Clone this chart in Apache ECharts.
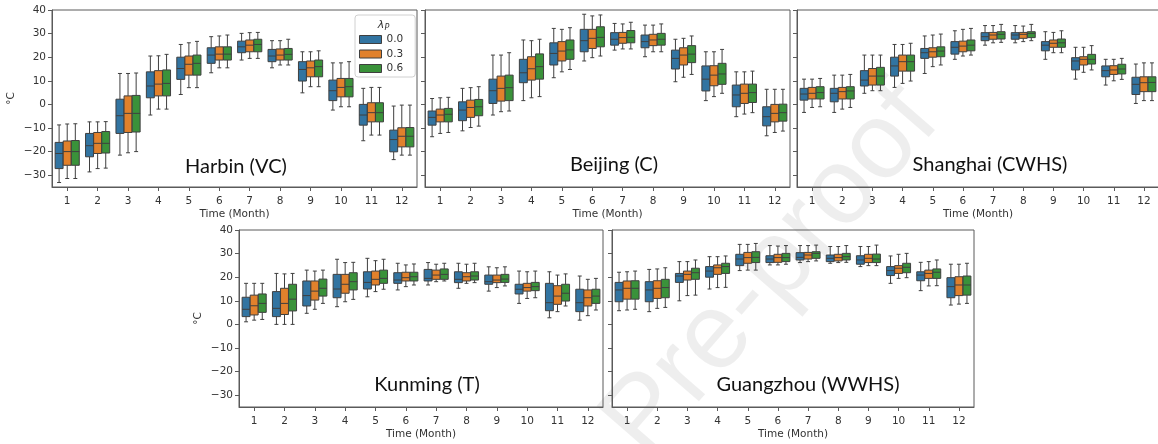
<!DOCTYPE html>
<html>
<head>
<meta charset="utf-8">
<script src="https://cdn.jsdelivr.net/npm/echarts@6/dist/echarts.min.js"></script>
<style>html,body{margin:0;padding:0;background:#fff}#c{width:1158px;height:444px}</style>
</head>
<body>
<div id="c"></div>
<script>
// ---- categories / tick labels ----
const months = ['1','2','3','4','5','6','7','8','9','10','11','12'];
const lambdaLabels = ['0.0','0.3','0.6'];
const yTicks = [-30,-20,-10,0,10,20,30,40];
const cityNames = ['Harbin (VC)','Beijing (C)','Shanghai (CWHS)','Kunming (T)','Guangzhou (WWHS)'];

// ---- box values per month: [whiskerLow, Q1, median, Q3, whiskerHigh] ----
const harbin00 = [[-33.1,-27.2,-20.8,-16.1,-8.7],[-28.6,-22.2,-17.5,-12.3,-7.4],[-21.5,-12.3,-4.8,2.2,13.1],[-4.5,2.8,7.8,13.8,20.5],[4.2,10.6,15.2,20.0,25.4],[13.4,17.4,20.9,24.0,28.7],[18.8,21.9,24.4,26.8,30.1],[15.5,18.1,20.5,23.3,27.0],[4.9,9.9,14.8,18.1,22.3],[-2.4,1.6,5.8,10.3,17.6],[-15.4,-8.8,-4.5,0.0,6.8],[-23.4,-20.1,-14.9,-10.9,-0.7]];
const harbin03 = [[-31.4,-25.8,-20.0,-15.5,-8.3],[-27.2,-20.8,-16.5,-11.9,-7.4],[-20.5,-11.9,-3.8,3.6,13.1],[-2.0,3.6,8.6,14.3,20.6],[7.1,12.4,17.0,20.5,26.1],[15.5,18.8,21.3,24.4,29.0],[19.5,22.3,25.1,27.3,30.4],[16.7,18.8,20.9,23.5,27.0],[7.5,11.7,15.5,18.4,22.3],[-1.0,3.2,7.2,11.0,17.6],[-13.0,-7.4,-3.5,0.7,7.2],[-21.5,-18.0,-13.5,-9.9,-0.3]];
const harbin06 = [[-31.4,-25.8,-20.0,-15.3,-8.2],[-27.0,-20.6,-16.5,-11.5,-7.3],[-20.0,-11.7,-3.8,3.8,13.3],[-2.0,3.6,8.9,14.6,21.2],[7.1,12.4,17.4,20.9,26.7],[15.5,18.8,21.3,24.4,29.4],[19.5,22.3,25.4,27.6,30.5],[16.7,18.8,21.2,23.7,27.6],[7.5,11.7,16.0,18.8,22.7],[-1.0,3.2,7.5,11.0,18.1],[-13.0,-7.4,-3.5,0.7,7.2],[-21.5,-18.0,-13.5,-9.8,-0.3]];

const beijing00 = [[-13.7,-8.8,-5.5,-2.8,2.5],[-11.2,-6.9,-2.4,1.1,6.8],[-4.5,0.4,5.8,10.7,20.9],[1.6,9.2,13.4,19.1,27.3],[11.3,16.7,21.6,26.1,32.2],[18.4,22.3,27.0,31.8,38.2],[23.0,25.1,27.6,30.4,34.3],[20.2,24.0,26.6,29.4,33.6],[9.6,15.0,19.5,23.0,27.6],[1.6,5.7,10.7,16.3,22.3],[-5.2,-1.0,4.0,8.2,13.8],[-13.3,-9.1,-5.2,-1.0,6.4]];
const beijing03 = [[-12.3,-7.4,-4.5,-2.0,2.8],[-9.8,-5.5,-1.3,1.8,7.1],[-3.1,1.4,6.8,12.0,20.9],[2.8,10.3,15.1,20.2,27.0],[13.8,18.4,22.6,26.6,31.8],[19.8,23.7,28.0,31.8,37.5],[23.5,25.9,28.3,30.5,34.1],[22.3,24.9,27.3,29.7,33.6],[11.5,16.7,20.9,24.0,28.0],[3.3,7.9,12.4,16.4,22.3],[-4.1,0.4,4.7,8.6,13.8],[-11.9,-7.4,-3.8,0.0,6.4]];
const beijing06 = [[-11.9,-7.4,-4.2,-1.7,3.0],[-9.2,-4.8,-1.0,2.1,7.5],[-2.8,1.6,7.1,12.4,21.9],[3.3,10.7,16.0,21.4,27.6],[14.8,19.1,23.1,27.3,32.5],[20.5,24.4,28.4,32.9,37.9],[23.5,26.1,28.4,31.3,34.8],[22.3,25.1,27.6,30.1,34.1],[12.7,17.7,21.3,24.9,29.0],[4.7,8.5,12.9,17.4,23.3],[-3.5,0.8,5.0,8.6,14.1],[-11.3,-7.1,-3.5,0.1,6.4]];

const shanghai00 = [[-3.4,1.8,4.4,6.8,10.7],[-3.4,1.1,4.7,6.8,12.4],[4.7,7.8,10.3,14.3,20.9],[7.2,12.0,16.3,20.0,25.4],[13.1,19.5,21.9,23.7,29.0],[19.1,21.3,24.2,26.6,31.2],[25.1,27.0,28.7,30.4,33.4],[26.1,27.6,29.4,30.4,33.4],[19.1,22.7,25.1,26.6,30.8],[10.7,14.6,18.4,19.8,24.2],[8.2,11.7,14.3,16.3,19.1],[0.4,4.2,8.5,11.5,17.1]];
const shanghai03 = [[-1.3,2.3,4.7,7.2,10.7],[-2.0,2.3,5.4,7.2,12.4],[5.8,8.2,12.0,15.2,20.9],[8.9,14.1,18.1,20.9,25.4],[16.0,20.0,22.3,24.0,29.4],[20.5,22.3,24.7,26.8,31.8],[26.1,27.6,29.4,30.5,33.4],[26.6,28.0,29.7,30.5,33.2],[21.9,24.2,25.9,27.3,30.5],[13.6,16.7,19.1,20.2,24.2],[10.0,12.7,14.6,16.4,19.1],[1.6,5.4,9.2,11.7,17.6]];
const shanghai06 = [[-1.0,2.3,5.0,7.5,11.0],[-1.3,2.3,5.7,7.5,12.7],[5.8,8.2,12.0,15.7,20.9],[9.9,14.1,18.1,20.9,25.9],[16.7,20.2,22.6,24.4,29.8],[20.9,22.7,25.1,27.3,32.2],[26.3,27.7,29.7,30.8,33.9],[27.0,28.3,30.1,30.8,33.9],[21.9,24.2,26.1,27.7,31.2],[14.6,17.1,19.1,21.2,24.9],[10.6,12.9,15.0,17.0,19.5],[1.6,5.4,9.3,11.7,17.6]];

const kunming00 = [[1.1,3.3,6.4,11.5,17.4],[0.0,3.3,6.8,13.9,21.6],[4.7,7.8,12.2,18.4,23.0],[7.5,11.3,15.0,21.2,27.6],[11.7,15.0,17.8,22.3,28.0],[14.6,17.4,18.8,21.9,25.9],[16.7,18.4,19.5,23.3,26.2],[15.3,17.7,19.1,22.3,25.9],[14.1,17.0,18.1,20.9,24.4],[8.9,12.9,14.9,17.0,22.6],[2.8,5.8,9.2,17.4,22.3],[1.8,5.4,9.2,14.9,20.5]];
const kunming03 = [[1.8,4.0,7.9,12.4,17.4],[0.0,4.2,8.9,15.3,21.4],[6.4,10.3,14.1,18.4,22.6],[9.6,13.2,17.0,21.2,26.2],[13.9,16.7,19.1,22.6,27.0],[16.0,18.4,19.8,22.1,25.2],[18.1,19.1,20.9,23.0,25.5],[17.4,18.4,20.2,21.9,25.5],[15.6,17.7,18.8,20.9,24.0],[11.0,14.1,15.6,17.4,22.3],[5.4,8.5,12.0,16.4,20.9],[3.7,7.8,11.3,14.6,19.1]];
const kunming06 = [[2.1,5.1,8.9,12.9,17.4],[0.0,5.7,10.7,17.0,21.6],[8.9,12.0,15.3,19.2,23.0],[10.6,14.6,18.1,21.9,26.3],[14.9,17.4,19.5,23.0,27.6],[16.7,18.4,20.2,22.1,25.6],[18.4,19.1,21.2,23.5,25.9],[17.7,18.8,20.5,22.3,25.9],[16.3,17.8,19.2,21.2,24.4],[11.3,14.3,16.0,17.8,22.6],[7.8,9.9,13.2,17.0,21.4],[6.1,8.9,12.0,14.9,19.5]];

const guangzhou00 = [[5.8,9.6,14.6,17.8,22.1],[5.4,9.6,14.6,18.1,23.3],[10.0,17.8,20.5,21.6,26.6],[15.0,20.0,22.6,24.5,28.7],[22.8,24.9,27.7,29.7,33.9],[25.2,26.2,27.7,29.1,33.4],[26.2,27.3,28.4,30.4,33.4],[25.9,26.6,28.0,29.4,33.0],[24.5,25.5,27.3,29.1,33.0],[17.4,20.7,22.8,24.5,29.0],[14.3,18.5,20.9,22.3,26.3],[8.2,11.3,16.0,19.8,25.5]];
const guangzhou03 = [[6.1,10.7,15.3,18.4,22.3],[6.8,11.0,15.3,18.5,23.5],[12.2,18.8,21.2,22.6,26.6],[15.6,21.2,24.0,25.2,28.7],[23.0,25.9,28.3,30.5,33.9],[25.2,26.3,28.3,29.7,33.2],[26.6,27.7,29.4,30.5,33.4],[26.2,26.9,28.3,29.7,33.0],[24.9,26.2,28.0,29.7,33.0],[19.5,21.6,23.8,24.9,29.7],[16.3,19.5,21.6,23.0,26.6],[8.6,12.2,16.7,20.2,25.5]];
const guangzhou06 = [[6.4,10.7,15.3,18.5,22.6],[7.2,11.3,15.6,19.1,24.0],[12.4,19.1,21.9,23.8,27.3],[15.7,21.6,24.5,25.9,29.0],[23.0,26.2,28.4,30.8,34.3],[25.5,26.6,28.3,30.1,33.4],[26.9,28.0,30.1,30.8,33.6],[26.3,27.3,28.7,30.1,33.4],[24.9,26.2,27.7,29.8,33.6],[19.8,21.9,24.2,25.9,30.1],[16.4,19.5,22.1,23.5,27.3],[8.9,12.4,16.7,20.5,25.9]];

// ---- styling / layout ----
const colors = ['#3274a1','#e1812c','#3a923a'];
const edge = '#3f3f3f';
const axisColor = '#5a5a5a';
const textColor = '#333';
const tickFont = 'DejaVu Sans';

const panels = [
  {data:[harbin00,harbin03,harbin06],       left:52,  top:10,  width:365, lx:236, ly:167, yLab:true},
  {data:[beijing00,beijing03,beijing06],    left:425, top:10,  width:365, lx:614, ly:165, yLab:false},
  {data:[shanghai00,shanghai03,shanghai06], left:797, top:10,  width:362, lx:990, ly:165, yLab:false},
  {data:[kunming00,kunming03,kunming06],    left:239, top:230, width:364, lx:427, ly:385, yLab:true},
  {data:[guangzhou00,guangzhou03,guangzhou06], left:612, top:230, width:362, lx:808, ly:385, yLab:false}
];
const plotH = 177;

function makeRender(k) {
  return function (params, api) {
    const j = api.value(0);
    const band = api.size([1, 0])[0];
    const slot = band * 0.8 / 3;
    const w = slot * 0.98;
    const cx = api.coord([j, api.value(3)])[0] + (k - 1) * slot;
    const y = [1, 2, 3, 4, 5].map(function (d) { return api.coord([j, api.value(d)])[1]; });
    const half = w / 2, cap = w / 4;
    const ls = {stroke: edge, lineWidth: 1};
    return {type: 'group', children: [
      {type: 'line', shape: {x1: cx, y1: y[0], x2: cx, y2: y[1]}, style: ls},
      {type: 'line', shape: {x1: cx, y1: y[3], x2: cx, y2: y[4]}, style: ls},
      {type: 'line', shape: {x1: cx - cap, y1: y[0], x2: cx + cap, y2: y[0]}, style: ls},
      {type: 'line', shape: {x1: cx - cap, y1: y[4], x2: cx + cap, y2: y[4]}, style: ls},
      {type: 'rect', shape: {x: cx - half, y: y[3], width: w, height: y[1] - y[3]},
        style: {fill: api.visual('color'), stroke: edge, lineWidth: 1}},
      {type: 'line', shape: {x1: cx - half, y1: y[2], x2: cx + half, y2: y[2]}, style: ls}
    ]};
  };
}

const grids = [], xAxes = [], yAxes = [], series = [], graphics = [];
panels.forEach(function (p, i) {
  grids.push({left: p.left, top: p.top, width: p.width, height: plotH, containLabel: false,
    outerBoundsMode: 'none', show: true, borderColor: axisColor, borderWidth: 1, backgroundColor: 'transparent'});
  xAxes.push({type: 'category', gridIndex: i, data: months, boundaryGap: true, position: 'bottom',
    axisLine: {show: true, onZero: false, lineStyle: {color: axisColor, width: 1}},
    axisTick: {show: true, alignWithLabel: true, interval: 0, length: 4, lineStyle: {color: axisColor}},
    axisLabel: {interval: 0, margin: 9, fontSize: 10.5, color: textColor, fontFamily: tickFont},
    splitLine: {show: false},
    name: 'Time (Month)', nameLocation: 'middle', nameGap: 22,
    nameTextStyle: {fontSize: 10.5, color: textColor, fontFamily: tickFont}});
  yAxes.push({type: 'value', gridIndex: i, min: -35, max: 40, position: 'left',
    axisLine: {show: true, onZero: false, lineStyle: {color: axisColor, width: 1}},
    axisTick: {show: true, length: 4, customValues: yTicks, lineStyle: {color: axisColor}},
    axisLabel: {show: p.yLab, customValues: yTicks, margin: 6, fontSize: 10.5, color: textColor, fontFamily: tickFont,
      formatter: function (v) { return String(v).replace('-', '\u2212'); }},
    splitLine: {show: false},
    name: p.yLab ? '°C' : '', nameLocation: 'middle', nameGap: 35, nameRotate: 90,
    nameTextStyle: {fontSize: 10.5, color: textColor, fontFamily: tickFont}});
  p.data.forEach(function (arr, k) {
    series.push({type: 'custom', name: lambdaLabels[k], xAxisIndex: i, yAxisIndex: i,
      data: arr.map(function (d, j) { return [j].concat(d); }),
      encode: {x: 0, y: [1, 2, 3, 4, 5]},
      itemStyle: {color: colors[k]},
      renderItem: makeRender(k), z: 3, clip: false});
  });
  graphics.push({type: 'text', x: p.lx, y: p.ly, z: 10,
    style: {text: cityNames[i], fill: '#111', font: '20px Lato', align: 'center', verticalAlign: 'middle'}});
});

// legend title lambda_P
graphics.push({type: 'text', x: 381, y: 25, z: 100, style: {text: 'λ', fill: textColor, font: 'italic 11px DejaVu Sans', align: 'center', verticalAlign: 'middle'}});
graphics.push({type: 'text', x: 387, y: 28, z: 100, style: {text: 'P', fill: textColor, font: 'italic 8px DejaVu Sans', align: 'center', verticalAlign: 'middle'}});
// watermark
graphics.push({type: 'text', x: 772, y: 272, rotation: 49 * Math.PI / 180, z: -10, silent: true,
  style: {text: 'Pre-proof', fill: 'rgba(0,0,0,0.065)', font: '108px Liberation Sans', align: 'center', verticalAlign: 'middle'}});

const chart = echarts.init(document.getElementById('c'), null, {renderer: 'canvas'});
chart.setOption({
  animation: false,
  backgroundColor: '#fff',
  grid: grids,
  xAxis: xAxes,
  yAxis: yAxes,
  series: series,
  legend: {
    data: lambdaLabels.map(function (n, k) { return {name: n, itemStyle: {color: colors[k], borderColor: edge, borderWidth: 1}}; }),
    orient: 'vertical', left: 355, top: 15, icon: 'rect', itemWidth: 22, itemHeight: 8, itemGap: 3.5,
    padding: [19, 12, 3, 4], borderColor: '#d0d0d0', borderWidth: 1, borderRadius: 3,
    backgroundColor: 'rgba(255,255,255,0.85)', selectedMode: false, z: 20,
    textStyle: {fontSize: 10.5, color: textColor, fontFamily: tickFont}
  },
  graphic: graphics
});
</script>
</body>
</html>
